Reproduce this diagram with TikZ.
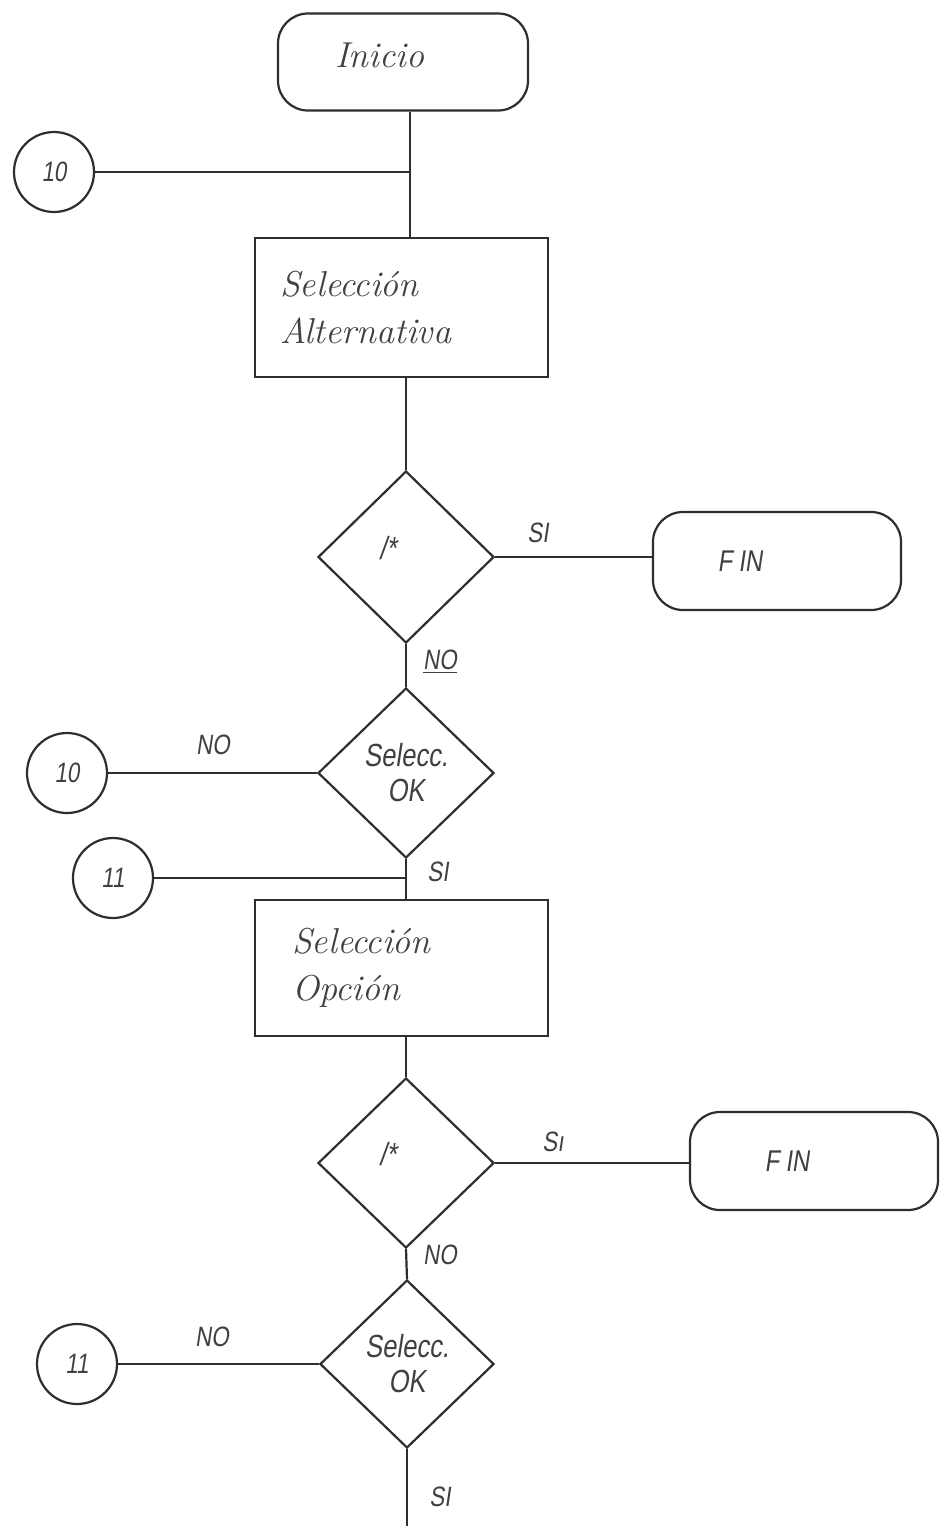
\documentclass[tikz,border=0pt]{standalone}
\usepackage{fontspec}
\newfontfamily\handfont[FakeStretch=0.8,FakeSlant=0.15]{Liberation Sans}
\usetikzlibrary{shapes.geometric}
\definecolor{ink}{gray}{0.18}
\definecolor{txt}{gray}{0.25}
\begin{document}
\begin{tikzpicture}[x=0.5pt,y=-0.5pt,
  wire/.style={draw=ink,line width=1.1pt},
  term/.style={draw=ink,line width=1.1pt,rounded corners=15pt,inner sep=0pt,text=txt,font=\fontsize{18}{20}\selectfont\itshape},
  proc/.style={draw=ink,line width=1.1pt,rectangle,minimum width=146.5pt,inner xsep=12.5pt,text width=121.5pt,align=left,text=txt,font=\fontsize{18}{23.5}\selectfont\itshape},
  dec/.style={draw=ink,line width=1.1pt,diamond,shape aspect=1,inner sep=0pt,align=center,text=txt,font=\handfont\fontsize{16}{17.5}\selectfont},
  conn/.style={draw=ink,line width=1.1pt,circle,minimum size=40pt,inner sep=0pt,text=txt,font=\handfont\fontsize{14}{14}\selectfont},
  lbl/.style={inner sep=1pt,text=txt,font=\handfont\fontsize{14}{14}\selectfont},
  finlbl/.style={font=\handfont\fontsize{15}{15}\selectfont}
]
\useasboundingbox[fill=white] (0,0) rectangle (939,1526);

% top terminal
\node[term,minimum width=125pt,minimum height=48.5pt] (inicio) at (403,62) {\raisebox{7pt}{Inicio}\hspace*{23pt}};
\coordinate (j1) at (410,172);
\node[conn] (c10a) at (54,172) {10};
\node[proc,minimum height=69.5pt] (sel1) at (401.5,307.5) {Selección\\Alternativa};

% first decision
\node[dec,minimum width=88pt,minimum height=86pt] (d1) at (406,557) {\raisebox{9pt}{/*}\hspace*{18pt}};
\node[term,finlbl,minimum width=124pt,minimum height=49pt] (fin1) at (777,561) {F\hspace{3pt}IN\hspace*{37pt}};
\node[lbl] (siA) at (538,533) {SI};
\node[lbl] (noA) at (440,662) {\underline{NO}};

% second decision
\node[dec,minimum width=88pt,minimum height=85pt] (d2) at (406,773) {Selecc.\\OK};
\node[conn] (c10b) at (67,773) {10};
\node[lbl] (noB) at (213,745) {NO};
\coordinate (j2) at (406,878);
\node[conn] (c11a) at (113,878) {11};
\node[lbl] (siB) at (438,872) {SI};
\node[proc,minimum height=68pt] (sel2) at (401.5,968) {\hspace*{6pt}Selección\\\hspace*{6pt}Opción};

% third decision
\node[dec,minimum width=88pt,minimum height=85pt] (d3) at (406,1163) {\raisebox{9pt}{/*}\hspace*{18pt}};
\node[term,finlbl,minimum width=124pt,minimum height=49pt] (fin2) at (814,1161) {F\hspace{3pt}IN\hspace*{27pt}};
\node[lbl] (siC) at (553,1142) {S\i};
\node[lbl] (noC) at (440,1255) {NO};

% fourth decision
\node[dec,minimum width=87pt,minimum height=84pt] (d4) at (407,1364) {Selecc.\\OK};
\node[conn] (c11b) at (77,1364) {11};
\node[lbl] (noD) at (212,1337) {NO};
\node[lbl] (siD) at (440,1497) {SI};
\coordinate (endc) at (407,1526);

% connectors
\draw[wire] (inicio.south -| j1) -- (j1) -- (sel1.north -| j1);
\draw[wire] (c10a.east) -- (j1);
\draw[wire] (sel1.south -| d1.north) -- (d1.north);
\draw[wire] (d1.east) -- (d1.east -| fin1.west);
\draw[wire] (d1.south) -- (d2.north);
\draw[wire] (d2.west) -- (c10b.east);
\draw[wire] (d2.south) -- (j2) -- (sel2.north -| j2);
\draw[wire] (c11a.east) -- (j2);
\draw[wire] (sel2.south -| d3.north) -- (d3.north);
\draw[wire] (d3.east) -- (d3.east -| fin2.west);
\draw[wire] (d3.south) -- (d4.north);
\draw[wire] (d4.west) -- (c11b.east);
\draw[wire] (d4.south) -- (endc);
\end{tikzpicture}
\end{document}
